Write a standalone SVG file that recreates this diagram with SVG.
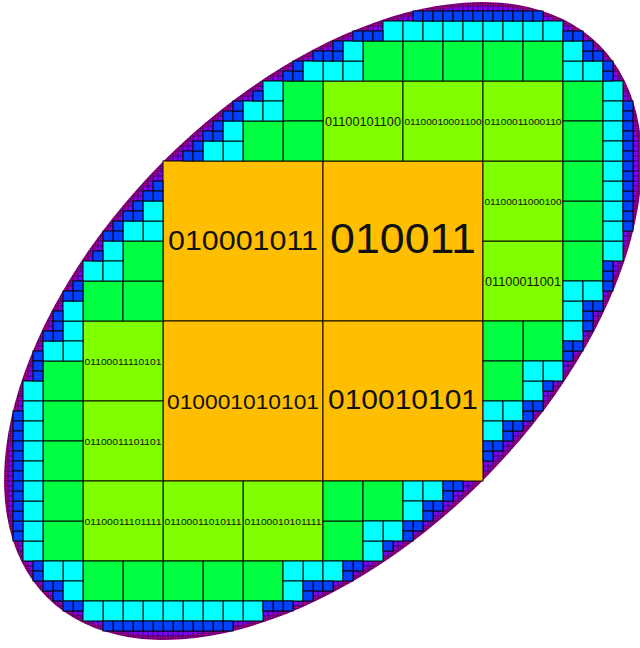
<svg xmlns="http://www.w3.org/2000/svg" width="640" height="648" viewBox="0 0 640 648">
<style>
.o{fill:#ffbf00}.l{fill:#80ff00}.g{fill:#00ff40}.c{fill:#00ffff}.b{fill:#0040ff}
#cells rect{stroke:#000;stroke-width:1.2;stroke-opacity:.8}
text{font-family:"Liberation Sans",Arial,sans-serif;fill:#111;text-anchor:middle}
</style>
<defs>
<pattern id="pt" patternUnits="userSpaceOnUse" x="3" y="1" width="2.5" height="2.5"><rect width="2.5" height="2.5" fill="#4a0070"/><rect x="0.6" y="0.6" width="1.3" height="1.3" fill="#ff0090"/></pattern>
<pattern id="pp" patternUnits="userSpaceOnUse" x="3" y="1" width="5" height="5"><rect width="5" height="5" fill="#300060"/><rect x="0.5" y="0.5" width="4" height="4" fill="#8000ff"/></pattern>
<clipPath id="e1"><ellipse cx="323" cy="321" rx="390.5" ry="225.8" transform="rotate(-45 323 321)"/></clipPath>
<clipPath id="e2"><ellipse cx="323" cy="321" rx="386.5" ry="221.5" transform="rotate(-45 323 321)"/></clipPath>
</defs>
<g id="ring">
<rect x="0" y="0" width="646" height="648" fill="url(#pt)" clip-path="url(#e1)"/>
<rect x="0" y="0" width="646" height="648" fill="url(#pp)" clip-path="url(#e2)"/>
</g>
<g id="cells">
<g id="core">
<rect class="o" x="163" y="161" width="160" height="160"/>
<rect class="o" x="323" y="161" width="160" height="160"/>
<rect class="o" x="163" y="321" width="160" height="160"/>
<rect class="o" x="323" y="321" width="160" height="160"/>
</g>
<g id="nr">
<rect class="l" x="323" y="81" width="80" height="80"/>
<rect class="l" x="403" y="81" width="80" height="80"/>
<rect class="g" x="363" y="41" width="40" height="40"/>
<rect class="g" x="403" y="41" width="40" height="40"/>
<rect class="g" x="443" y="41" width="40" height="40"/>
<rect class="c" x="323" y="61" width="20" height="20"/>
<rect class="c" x="343" y="61" width="20" height="20"/>
<rect class="c" x="343" y="41" width="20" height="20"/>
<rect class="c" x="383" y="21" width="20" height="20"/>
<rect class="c" x="403" y="21" width="20" height="20"/>
<rect class="c" x="423" y="21" width="20" height="20"/>
<rect class="c" x="443" y="21" width="20" height="20"/>
<rect class="c" x="463" y="21" width="20" height="20"/>
<rect class="b" x="323" y="51" width="10" height="10"/>
<rect class="b" x="333" y="51" width="10" height="10"/>
<rect class="b" x="333" y="41" width="10" height="10"/>
<rect class="b" x="353" y="31" width="10" height="10"/>
<rect class="b" x="363" y="31" width="10" height="10"/>
<rect class="b" x="373" y="31" width="10" height="10"/>
<rect class="b" x="413" y="11" width="10" height="10"/>
<rect class="b" x="423" y="11" width="10" height="10"/>
<rect class="b" x="433" y="11" width="10" height="10"/>
<rect class="b" x="443" y="11" width="10" height="10"/>
<rect class="b" x="453" y="11" width="10" height="10"/>
<rect class="b" x="463" y="11" width="10" height="10"/>
<rect class="b" x="473" y="11" width="10" height="10"/>
</g>
<use href="#nr" transform="matrix(0 -1 -1 0 644 644)"/>
<use href="#nr" transform="matrix(-1 0 0 -1 646 642)"/>
<use href="#nr" transform="matrix(0 1 1 0 2 -2)"/>
<g id="nl">
<rect class="g" x="283" y="81" width="40" height="40"/>
<rect class="g" x="283" y="121" width="40" height="40"/>
<rect class="g" x="243" y="121" width="40" height="40"/>
<rect class="c" x="263" y="81" width="20" height="20"/>
<rect class="c" x="243" y="101" width="20" height="20"/>
<rect class="c" x="263" y="101" width="20" height="20"/>
<rect class="c" x="223" y="141" width="20" height="20"/>
<rect class="c" x="203" y="141" width="20" height="20"/>
<rect class="c" x="223" y="121" width="20" height="20"/>
<rect class="c" x="303" y="61" width="20" height="20"/>
<rect class="b" x="313" y="51" width="10" height="10"/>
<rect class="b" x="283" y="71" width="10" height="10"/>
<rect class="b" x="293" y="71" width="10" height="10"/>
<rect class="b" x="293" y="61" width="10" height="10"/>
<rect class="b" x="253" y="91" width="10" height="10"/>
<rect class="b" x="223" y="111" width="10" height="10"/>
<rect class="b" x="233" y="111" width="10" height="10"/>
<rect class="b" x="233" y="101" width="10" height="10"/>
<rect class="b" x="203" y="131" width="10" height="10"/>
<rect class="b" x="213" y="131" width="10" height="10"/>
<rect class="b" x="213" y="121" width="10" height="10"/>
<rect class="b" x="183" y="151" width="10" height="10"/>
<rect class="b" x="193" y="151" width="10" height="10"/>
<rect class="b" x="193" y="141" width="10" height="10"/>
</g>
<use href="#nl" transform="matrix(0 1 1 0 2 -2)"/>
<use href="#nl" transform="matrix(0 -1 -1 0 644 644)"/>
<use href="#nl" transform="matrix(-1 0 0 -1 646 642)"/>
<g id="ne">
<rect class="l" x="483" y="81" width="80" height="80"/>
<rect class="g" x="483" y="41" width="40" height="40"/>
<rect class="g" x="523" y="41" width="40" height="40"/>
<rect class="g" x="563" y="81" width="40" height="40"/>
<rect class="g" x="563" y="121" width="40" height="40"/>
<rect class="c" x="483" y="21" width="20" height="20"/>
<rect class="c" x="503" y="21" width="20" height="20"/>
<rect class="c" x="523" y="21" width="20" height="20"/>
<rect class="c" x="543" y="21" width="20" height="20"/>
<rect class="c" x="563" y="61" width="20" height="20"/>
<rect class="c" x="583" y="61" width="20" height="20"/>
<rect class="c" x="563" y="41" width="20" height="20"/>
<rect class="c" x="603" y="81" width="20" height="20"/>
<rect class="c" x="603" y="101" width="20" height="20"/>
<rect class="c" x="603" y="121" width="20" height="20"/>
<rect class="c" x="603" y="141" width="20" height="20"/>
<rect class="b" x="483" y="11" width="10" height="10"/>
<rect class="b" x="493" y="11" width="10" height="10"/>
<rect class="b" x="503" y="11" width="10" height="10"/>
<rect class="b" x="513" y="11" width="10" height="10"/>
<rect class="b" x="523" y="11" width="10" height="10"/>
<rect class="b" x="533" y="11" width="10" height="10"/>
<rect class="b" x="563" y="31" width="10" height="10"/>
<rect class="b" x="573" y="31" width="10" height="10"/>
<rect class="b" x="583" y="51" width="10" height="10"/>
<rect class="b" x="593" y="51" width="10" height="10"/>
<rect class="b" x="583" y="41" width="10" height="10"/>
<rect class="b" x="603" y="71" width="10" height="10"/>
<rect class="b" x="603" y="61" width="10" height="10"/>
<rect class="b" x="623" y="101" width="10" height="10"/>
<rect class="b" x="623" y="111" width="10" height="10"/>
<rect class="b" x="623" y="121" width="10" height="10"/>
<rect class="b" x="623" y="131" width="10" height="10"/>
<rect class="b" x="623" y="141" width="10" height="10"/>
<rect class="b" x="623" y="151" width="10" height="10"/>
</g>
<use href="#ne" transform="matrix(-1 0 0 -1 646 642)"/>
</g>
<g id="labels">
<text x="243" y="250" font-size="28" textLength="150" lengthAdjust="spacingAndGlyphs">010001011</text>
<text x="403" y="253" font-size="42" textLength="146" lengthAdjust="spacingAndGlyphs">010011</text>
<text x="243" y="409" font-size="21" textLength="152" lengthAdjust="spacingAndGlyphs">010001010101</text>
<text x="403" y="409" font-size="28" textLength="150" lengthAdjust="spacingAndGlyphs">010010101</text>
<text x="363" y="125.5" font-size="13" textLength="76" lengthAdjust="spacingAndGlyphs">01100101100</text>
<text x="443" y="124.5" font-size="9.7" textLength="77" lengthAdjust="spacingAndGlyphs">01100010001100</text>
<text x="523" y="124.5" font-size="9.7" textLength="77" lengthAdjust="spacingAndGlyphs">01100011000110</text>
<text x="523" y="204.5" font-size="9.7" textLength="77" lengthAdjust="spacingAndGlyphs">01100011000100</text>
<text x="523" y="285.5" font-size="13" textLength="76" lengthAdjust="spacingAndGlyphs">01100011001</text>
<text x="123" y="364.5" font-size="9.7" textLength="77" lengthAdjust="spacingAndGlyphs">01100011110101</text>
<text x="123" y="444.5" font-size="9.7" textLength="77" lengthAdjust="spacingAndGlyphs">01100011101101</text>
<text x="123" y="524.5" font-size="9.7" textLength="77" lengthAdjust="spacingAndGlyphs">01100011101111</text>
<text x="203" y="524.5" font-size="9.7" textLength="77" lengthAdjust="spacingAndGlyphs">01100011010111</text>
<text x="283" y="524.5" font-size="9.7" textLength="77" lengthAdjust="spacingAndGlyphs">01100010101111</text>
</g>
</svg>
